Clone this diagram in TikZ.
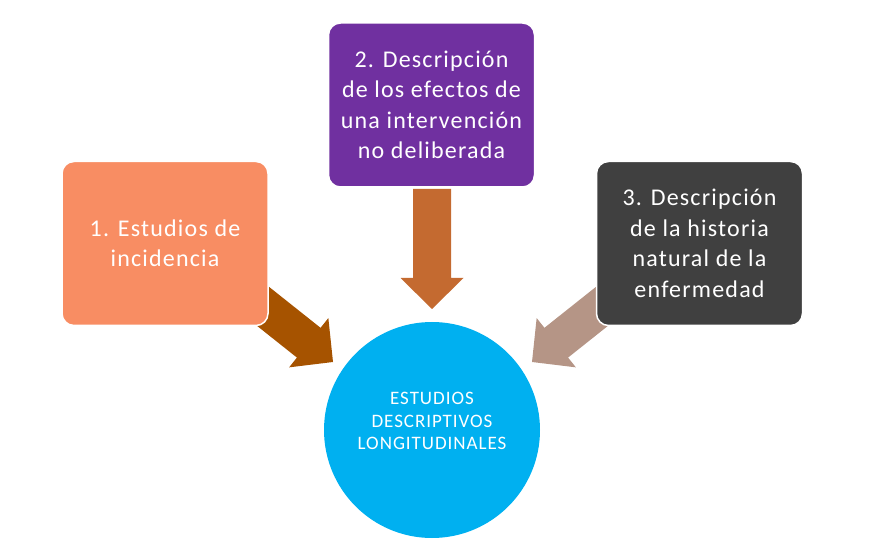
\documentclass[tikz,border=0pt]{standalone}
\usepackage{fontspec}
\setmainfont{Carlito}[LetterSpace=5]
\definecolor{boxorange}{HTML}{F88D63}
\definecolor{boxpurple}{HTML}{7030A0}
\definecolor{boxdark}{HTML}{404040}
\definecolor{circblue}{HTML}{00B0F0}
\definecolor{arrdown}{HTML}{C46A30}
\definecolor{arrleft}{HTML}{A65300}
\definecolor{arrright}{HTML}{B59586}
\tikzset{
  infobox/.style={draw=white, line width=1.5pt, rounded corners=12pt,
    minimum width=206pt, minimum height=164pt, inner sep=0pt,
    text=white, align=center, font=\fontsize{24}{30.5}\selectfont},
  bigarrow/.pic={
    \fill[pic actions] (0,0) -- (-31,31.5) -- (-31,19) -- (-\pgfkeysvalueof{/tikz/arrlen},19)
      -- (-\pgfkeysvalueof{/tikz/arrlen},-19) -- (-31,-19) -- (-31,-31.5) -- cycle;
  },
  arrlen/.initial=110,
}
\begin{document}
\begin{tikzpicture}[x=1pt,y=-1pt]
\useasboundingbox (0,0) rectangle (879,540);
% arrows
\pic[fill=arrdown, rotate=-90, arrlen=120] (adown) at (432,309) {bigarrow};
\pic[fill=arrleft, rotate=-38.5, arrlen=110] (aleft) at (333,362) {bigarrow};
\pic[fill=arrright, rotate=-141.5, arrlen=110] (aright) at (532,362) {bigarrow};
% boxes
\node[infobox, fill=boxorange] (b1) at (165,243.5) {1. Estudios de\\incidencia};
\node[infobox, fill=boxpurple] (b2) at (431.5,105) {2. Descripción\\de los efectos de\\una intervención\\no deliberada};
\node[infobox, fill=boxdark] (b3) at (699.5,243.5) {3. Descripción\\de la historia\\natural de la\\enfermedad};
% circle
\node[circle, fill=circblue, minimum size=216pt, inner sep=0pt] (c) at (432,430) {};
\node[text=white, align=center, font=\fontsize{19}{22.5}\selectfont] (ct) at (432,421)
  {ESTUDIOS\\DESCRIPTIVOS\\LONGITUDINALES};
\end{tikzpicture}
\end{document}
